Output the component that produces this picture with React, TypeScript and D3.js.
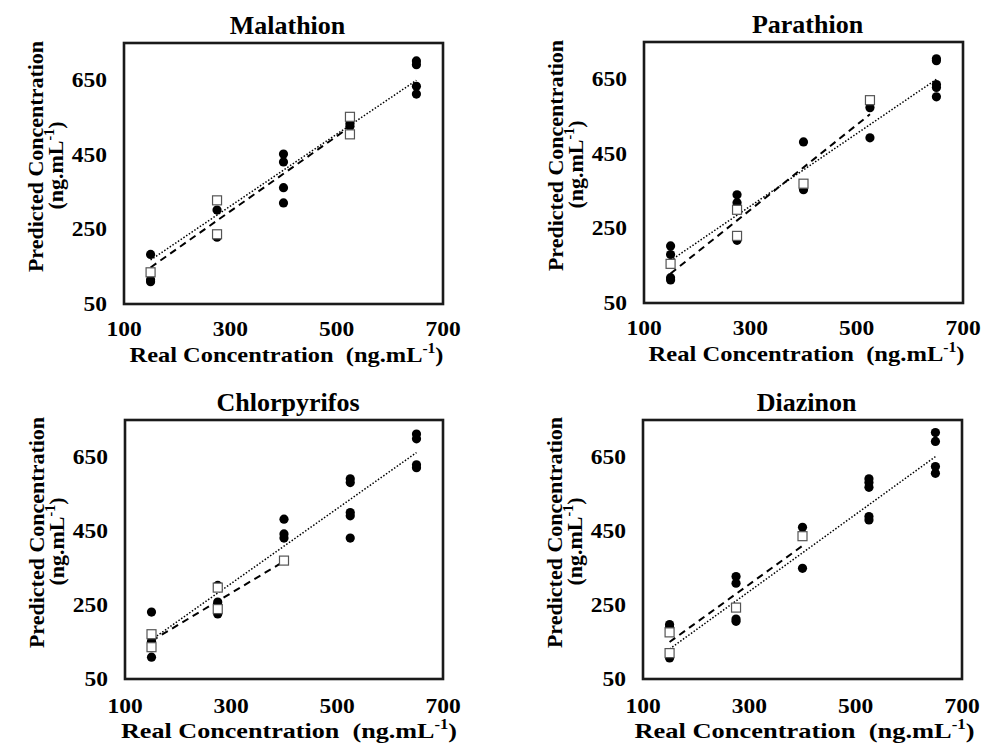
import React from "react";
import * as d3 from "d3";

const titles = ["Malathion", "Parathion", "Chlorpyrifos", "Diazinon"];
const xTicks = [100, 300, 500, 700];
const yTicks = [50, 250, 450, 650];

// filled circles: [real, predicted]
const malathionFilled = [[150,183],[150,115],[150,110],[275,302],[275,229],[400,452],[400,431],[400,362],[400,321],[525,534],[525,527],[650,702],[650,692],[650,634],[650,613]];
const parathionFilled = [[150,203],[150,180],[150,118],[150,112],[275,340],[275,319],[275,218],[400,482],[400,354],[525,574],[525,493],[650,705],[650,700],[650,636],[650,628],[650,603]];
const chlorpyrifosFilled = [[150,231],[150,152],[150,109],[275,303],[275,258],[275,250],[275,226],[400,482],[400,442],[400,431],[525,591],[525,581],[525,500],[525,491],[525,431],[650,712],[650,699],[650,629],[650,621]];
const diazinonFilled = [[150,197],[150,190],[150,107],[275,327],[275,309],[275,212],[275,206],[400,460],[400,349],[525,591],[525,581],[525,568],[525,489],[525,480],[650,716],[650,692],[650,624],[650,606]];

// open squares
const malathionSquares = [[150,135],[275,328],[275,237],[525,552],[525,505]];
const parathionSquares = [[150,155],[275,300],[275,230],[400,370],[525,594]];
const chlorpyrifosSquares = [[150,171],[150,136],[275,297],[275,239],[400,370]];
const diazinonSquares = [[150,176],[150,120],[275,243],[400,436]];

// trend lines: [[x0,y0],[x1,y1]]
const dottedFits = [
  [[150,168],[650,650]],
  [[150,164],[650,650]],
  [[150,156],[650,662]],
  [[150,131],[650,651]],
];
const dashedFits = [
  [[150,148],[525,525]],
  [[150,129],[525,556]],
  [[150,153],[400,368]],
  [[150,150],[400,410]],
];

const filledSets = [malathionFilled, parathionFilled, chlorpyrifosFilled, diazinonFilled];
const squareSets = [malathionSquares, parathionSquares, chlorpyrifosSquares, diazinonSquares];

const FONT = "'Liberation Serif', 'Times New Roman', serif";

const boxes = [
  { x: 124, y: 43, w: 319, h: 261, tickDy: 32, titleDy: 58, xtLen: 314, xtDx: 3 },
  { x: 644, y: 42, w: 319, h: 261, tickDy: 32, titleDy: 58, xtLen: 316, xtDx: 3 },
  { x: 125, y: 420, w: 318, h: 259, tickDy: 34, titleDy: 59, xtLen: 336, xtDx: 5 },
  { x: 643, y: 420, w: 319, h: 259, tickDy: 34, titleDy: 59, xtLen: 340, xtDx: 2 },
];

function Panel({ i }: { i: number }) {
  const b = boxes[i];
  const x = d3.scaleLinear().domain([100, 700]).range([b.x, b.x + b.w]);
  const y = d3.scaleLinear().domain([50, 750]).range([b.y + b.h, b.y]);
  const line = d3.line<number[]>().x((d) => x(d[0])).y((d) => y(d[1]));
  const cx = b.x + b.w / 2;
  const cy = b.y + b.h / 2;
  const sq = 9;
  const sx = 1.12;
  return (
    <g fontFamily={FONT} fontWeight="bold" fill="#000">
      <text x={cx + 4} y={b.y - 9} fontSize={26} textAnchor="middle">{titles[i]}</text>
      {yTicks.map((t) => (
        <text key={"y" + t} transform={`translate(${b.x - 17},${y(t) + 7}) scale(${sx},1)`} fontSize={21} textAnchor="end">{t}</text>
      ))}
      {xTicks.map((t) => (
        <text key={"x" + t} transform={`translate(${x(t)},${b.y + b.h + b.tickDy}) scale(${sx},1)`} fontSize={21} textAnchor="middle">{t}</text>
      ))}
      <text x={cx + b.xtDx - b.xtLen / 2} y={b.y + b.h + b.titleDy} fontSize={22} textLength={b.xtLen} lengthAdjust="spacingAndGlyphs">
        Real Concentration{"\u00a0\u00a0"}(ng.mL<tspan fontSize={14} dy={-9}>-1</tspan><tspan dy={9}>)</tspan>
      </text>
      <text transform={`translate(${b.x - 81},${cy - 17}) rotate(-90)`} fontSize={22} textAnchor="middle">Predicted Concentration</text>
      <text transform={`translate(${b.x - 61},${cy - 8}) rotate(-90)`} fontSize={22} textAnchor="middle">
        (ng.mL<tspan fontSize={14} dy={-9}>-1</tspan><tspan dy={9}>)</tspan>
      </text>
      {filledSets[i].map((d, k) => (
        <circle key={"c" + k} cx={x(d[0])} cy={y(d[1])} r={4.6} fill="#000" />
      ))}
      <path d={line(dottedFits[i]) || ""} stroke="#000" strokeWidth={1.5} strokeDasharray="1.5,1.8" fill="none" />
      <path d={line(dashedFits[i]) || ""} stroke="#000" strokeWidth={2} strokeDasharray="7,5" fill="none" />
      {squareSets[i].map((d, k) => (
        <rect key={"s" + k} x={x(d[0]) - sq / 2} y={y(d[1]) - sq / 2} width={sq} height={sq} fill="#fff" stroke="#555" strokeWidth={1.2} />
      ))}
      <rect x={b.x} y={b.y} width={b.w} height={b.h} fill="none" stroke="#1a1a1a" strokeWidth={2.6} />
    </g>
  );
}

export default function App() {
  return (
    <svg width={982} height={750} style={{ position: "absolute", left: 0, top: 0, background: "#fff" }}>
      <rect width={982} height={750} fill="#fff" />
      {[0, 1, 2, 3].map((i) => (
        <Panel key={i} i={i} />
      ))}
    </svg>
  );
}
